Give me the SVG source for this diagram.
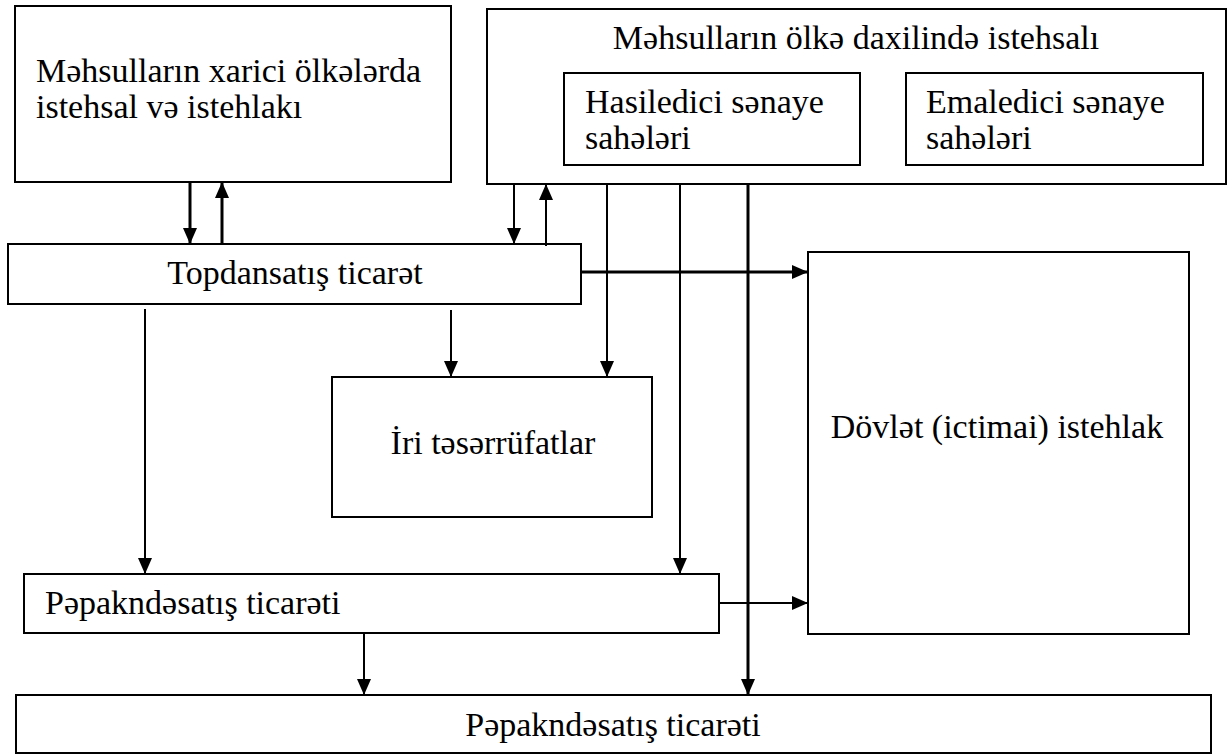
<svg xmlns="http://www.w3.org/2000/svg" width="1230" height="756" viewBox="0 0 1230 756">
  <style>
    .box { fill: #fff; stroke: #000; stroke-width: 2; }
    text { font-family: 'Liberation Serif', 'Times New Roman', Times, 'DejaVu Serif', serif; font-size: 34px; fill: #000; }
    .mid { text-anchor: middle; }
    .ln { stroke: #000; stroke-width: 2; fill: none; marker-end: url(#ah); }
    .thick { stroke-width: 3; }
  </style>
  <defs>
    <marker id="ah" markerUnits="userSpaceOnUse" markerWidth="16" markerHeight="14" refX="16" refY="7" orient="auto">
      <path d="M0,0 L16,7 L0,14 z" fill="#000"/>
    </marker>
  </defs>
  <rect width="1230" height="756" fill="#fff"/>

  <g id="foreign">
    <rect class="box" x="15" y="6" width="436" height="176"/>
    <text x="36" y="82">Məhsulların xarici ölkələrda</text>
    <text x="36" y="118">istehsal və istehlakı</text>
  </g>

  <g id="domestic">
    <rect class="box" x="487" y="9" width="739" height="175"/>
    <text class="mid" x="856" y="49">Məhsulların ölkə daxilində istehsalı</text>
  </g>

  <g id="extractive">
    <rect class="box" x="564" y="73" width="296" height="92"/>
    <text x="585" y="113">Hasiledici sənaye</text>
    <text x="585" y="149">sahələri</text>
  </g>

  <g id="processing">
    <rect class="box" x="906" y="73" width="297" height="92"/>
    <text x="926" y="113">Emaledici sənaye</text>
    <text x="926" y="149">sahələri</text>
  </g>

  <g id="wholesale">
    <rect class="box" x="8" y="244" width="573" height="60"/>
    <text class="mid" x="295" y="284">Topdansatış ticarət</text>
  </g>

  <g id="large-farms">
    <rect class="box" x="332" y="377" width="320" height="140"/>
    <text class="mid" x="493" y="454">İri təsərrüfatlar</text>
  </g>

  <g id="state">
    <rect class="box" x="808" y="252" width="381" height="382"/>
    <text class="mid" x="997" y="438">Dövlət (ictimai) istehlak</text>
  </g>

  <g id="retail">
    <rect class="box" x="24" y="574" width="695" height="59"/>
    <text x="45" y="614">Pəpakndəsatış ticarəti</text>
  </g>

  <g id="retail-bottom">
    <rect class="box" x="16" y="695" width="1195" height="58"/>
    <text class="mid" x="613" y="736">Pəpakndəsatış ticarəti</text>
  </g>

  <g id="connectors">
    <line class="ln thick" x1="190" y1="182" x2="190" y2="244"/>
    <line class="ln thick" x1="222" y1="244" x2="222" y2="182"/>
    <line class="ln" x1="514" y1="184" x2="514" y2="244"/>
    <line class="ln" x1="546" y1="246" x2="546" y2="184"/>
    <line class="ln thick" x1="581" y1="272" x2="808" y2="272"/>
    <line class="ln" x1="145" y1="309" x2="145" y2="574"/>
    <line class="ln" x1="451" y1="310" x2="451" y2="377"/>
    <line class="ln" x1="607" y1="184" x2="607" y2="377"/>
    <line class="ln" x1="680" y1="184" x2="680" y2="574"/>
    <line class="ln thick" x1="748" y1="184" x2="748" y2="695"/>
    <line class="ln" x1="719" y1="603" x2="808" y2="603"/>
    <line class="ln" x1="364" y1="633" x2="364" y2="695"/>
  </g>
</svg>
